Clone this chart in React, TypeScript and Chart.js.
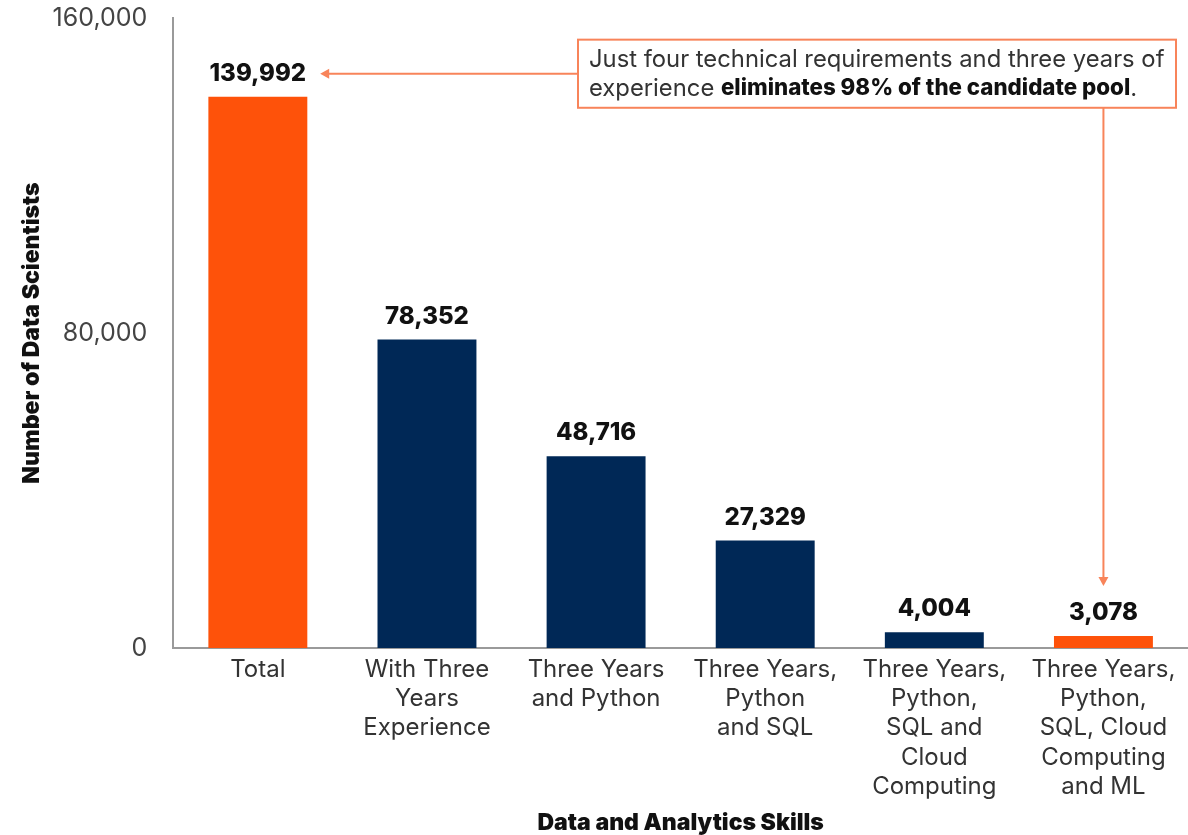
import React, { useEffect, useRef } from "react";
import { Chart, registerables } from "chart.js";

Chart.register(...registerables);

const categories: string[][] = [
  ["Total"],
  ["With Three", "Years", "Experience"],
  ["Three Years", "and Python"],
  ["Three Years,", "Python", "and SQL"],
  ["Three Years,", "Python,", "SQL and", "Cloud", "Computing"],
  ["Three Years,", "Python,", "SQL, Cloud", "Computing", "and ML"],
];
const values: number[] = [139992, 78352, 48716, 27329, 4004, 3078];
const highlighted: boolean[] = [true, false, false, false, false, true];
const yTicks: number[] = [0, 80000, 160000];
const annotationNormal1 = "Just four technical requirements and three years of";
const annotationNormal2 = "experience ";
const annotationBold2 = "eliminates 98% of the candidate pool";
const annotationEnd2 = ".";

const ORANGE = "#FE520A";
const NAVY = "#002856";
const ACCENT = "#F8845A";
const FONT = "Inter, 'Noto Sans', sans-serif";
const LABEL_FONT = `800 24px ${FONT}`;
const SHIFT = 23;

const fmt = (v: number) => v.toLocaleString("en-US");

const labelsPlugin = {
  id: "valueLabels",
  afterDatasetsDraw(chart: any) {
    const ctx = chart.ctx;
    const meta = chart.getDatasetMeta(0);
    ctx.save();
    ctx.font = LABEL_FONT;
    ctx.fillStyle = "#111";
    ctx.textAlign = "center";
    ctx.textBaseline = "middle";
    meta.data.forEach((bar: any, i: number) => {
      ctx.fillText(fmt(values[i]), bar.x, bar.y - 23);
    });
    ctx.restore();
  },
};

const annotationPlugin = {
  id: "annotationBox",
  afterDraw(chart: any) {
    const ctx = chart.ctx;
    const meta = chart.getDatasetMeta(0);
    const yScale = chart.scales.y;
    const area = chart.chartArea;
    const first = meta.data[0];
    const last = meta.data[meta.data.length - 1];

    const boxRight = area.right - 12;
    const boxLeft = boxRight - 598;
    const boxTop = yScale.getPixelForValue(154500);
    const boxBottom = yScale.getPixelForValue(137200);

    ctx.save();
    ctx.fillStyle = "#fff";
    ctx.fillRect(boxLeft, boxTop, boxRight - boxLeft, boxBottom - boxTop);
    ctx.strokeStyle = ACCENT;
    ctx.lineWidth = 2;
    ctx.strokeRect(boxLeft, boxTop, boxRight - boxLeft, boxBottom - boxTop);

    ctx.textBaseline = "middle";
    ctx.textAlign = "left";
    const tx = boxLeft + 11;
    const line1 = boxTop + 20;
    const line2 = boxTop + 49;
    ctx.fillStyle = "#333";
    ctx.font = `23.8px ${FONT}`;
    ctx.fillText(annotationNormal1, tx, line1);
    ctx.fillText(annotationNormal2, tx, line2);
    let w = ctx.measureText(annotationNormal2).width;
    ctx.font = `800 22.3px ${FONT}`;
    ctx.fillStyle = "#111";
    ctx.fillText(annotationBold2, tx + w, line2);
    w += ctx.measureText(annotationBold2).width;
    ctx.font = `23.8px ${FONT}`;
    ctx.fillStyle = "#333";
    ctx.fillText(annotationEnd2, tx + w, line2);

    ctx.font = LABEL_FONT;
    const lw = ctx.measureText(fmt(values[0])).width;
    const ay = first.y - 23;
    const tipX = first.x + lw / 2 + 14;
    ctx.strokeStyle = ACCENT;
    ctx.fillStyle = ACCENT;
    ctx.lineWidth = 2;
    ctx.beginPath();
    ctx.moveTo(boxLeft, ay);
    ctx.lineTo(tipX + 6, ay);
    ctx.stroke();
    ctx.beginPath();
    ctx.moveTo(tipX, ay);
    ctx.lineTo(tipX + 9, ay - 5);
    ctx.lineTo(tipX + 9, ay + 5);
    ctx.closePath();
    ctx.fill();

    const vx = last.x;
    const vTip = last.y - 23 - 27;
    ctx.beginPath();
    ctx.moveTo(vx, boxBottom);
    ctx.lineTo(vx, vTip - 6);
    ctx.stroke();
    ctx.beginPath();
    ctx.moveTo(vx, vTip);
    ctx.lineTo(vx - 5, vTip - 9);
    ctx.lineTo(vx + 5, vTip - 9);
    ctx.closePath();
    ctx.fill();
    ctx.restore();
  },
};

export default function App() {
  const ref = useRef<HTMLCanvasElement | null>(null);
  useEffect(() => {
    if (!ref.current) return;
    const chart = new Chart(ref.current, {
      type: "bar",
      data: {
        labels: categories,
        datasets: [
          {
            data: values,
            backgroundColor: highlighted.map((h) => (h ? ORANGE : NAVY)),
            barPercentage: 0.585,
            categoryPercentage: 1,
          },
        ],
      },
      options: {
        responsive: false,
        animation: false,
        maintainAspectRatio: false,
        layout: { padding: { top: 0, left: 14, right: 0, bottom: 0 } },
        plugins: {
          legend: { display: false },
          tooltip: { enabled: false },
        },
        scales: {
          x: {
            grid: { display: false, drawTicks: false },
            border: { color: "#9a9a9a", width: 2 },
            ticks: {
              color: "#333",
              font: { family: FONT, size: 24, lineHeight: 1.22 },
              padding: 7,
              maxRotation: 0,
              autoSkip: false,
            },
            title: {
              display: true,
              text: "Data and Analytics Skills",
              color: "#111",
              font: { family: FONT, size: 23, weight: "900" },
              padding: { top: 1, bottom: -2 },
            },
          },
          y: {
            min: 0,
            max: 160000,
            afterBuildTicks: (axis: any) => {
              axis.ticks = yTicks.map((v) => ({ value: v }));
            },
            grid: { display: false, drawTicks: false },
            border: { color: "#9a9a9a", width: 2 },
            ticks: {
              color: "#444",
              font: { family: FONT, size: 25 },
              padding: 26,
              callback: (v: any) => fmt(Number(v)),
            },
            title: {
              display: true,
              text: "Number of Data Scientists",
              color: "#111",
              font: { family: FONT, size: 23, weight: "900" },
              padding: { top: 4, bottom: -19 },
            },
          },
        },
      },
      plugins: [labelsPlugin, annotationPlugin],
    });
    return () => chart.destroy();
  }, []);
  return (
    <div style={{ position: "absolute", left: 0, top: 0, width: 1188, height: 835, overflow: "hidden", background: "#fff" }}>
      <canvas
        ref={ref}
        width={1188}
        height={835 + SHIFT}
        style={{ position: "absolute", left: 0, top: -SHIFT, width: 1188, height: 835 + SHIFT }}
      />
    </div>
  );
}
